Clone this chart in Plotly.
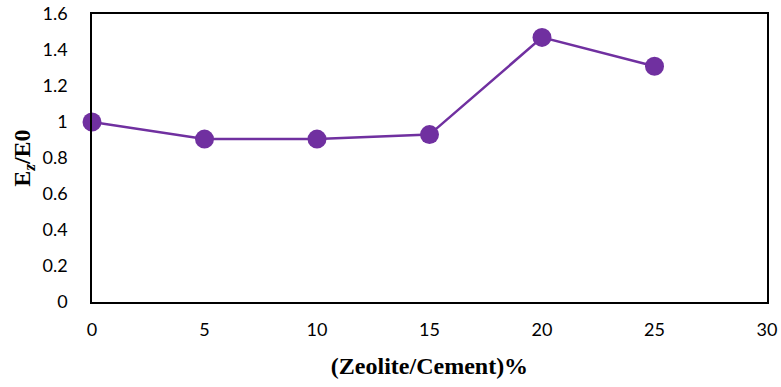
import plotly.graph_objects as go

ratio = [0, 5, 10, 15, 20, 25]
ez_e0 = [1.0, 0.905, 0.905, 0.93, 1.47, 1.31]
x_ticks = [0, 5, 10, 15, 20, 25, 30]
y_ticks = [0, 0.2, 0.4, 0.6, 0.8, 1, 1.2, 1.4, 1.6]
y_labels = ["0", "0.2", "0.4", "0.6", "0.8", "1", "1.2", "1.4", "1.6"]

fig = go.Figure()
fig.add_trace(go.Scatter(
    x=ratio, y=ez_e0, mode="lines+markers",
    line=dict(color="#7030A0", width=2.5),
    marker=dict(color="#7030A0", size=19),
    cliponaxis=False, showlegend=False,
))
fig.update_layout(
    width=781, height=387,
    margin=dict(l=92, r=14, t=14, b=85),
    paper_bgcolor="white", plot_bgcolor="white",
    font=dict(family="Lato, Carlito, sans-serif", size=18, color="#000000"),
)
fig.update_xaxes(
    range=[0, 30], tickvals=x_ticks, ticks="", showgrid=False, zeroline=False,
    showline=True, linecolor="black", linewidth=1.5, mirror=True,
    tickfont=dict(size=18), ticklabelstandoff=11, automargin=False,
    title=dict(text="<b>(Zeolite/Cement)%</b>", font=dict(family="Liberation Serif", size=24, color="black"), standoff=18),
)
fig.update_yaxes(
    range=[0, 1.6], tickvals=y_ticks, ticktext=y_labels, ticks="", showgrid=False, zeroline=False,
    showline=True, linecolor="black", linewidth=1.5, mirror=True,
    tickfont=dict(size=18), ticklabelstandoff=19, automargin=False,
    title=dict(text="<b>E<sub><i>z</i></sub>/E0</b>", font=dict(family="Liberation Serif", size=24, color="black"), standoff=5),
)
fig.write_html("out.html", config={"displayModeBar": False},
               post_script="document.body.style.margin='0';")
